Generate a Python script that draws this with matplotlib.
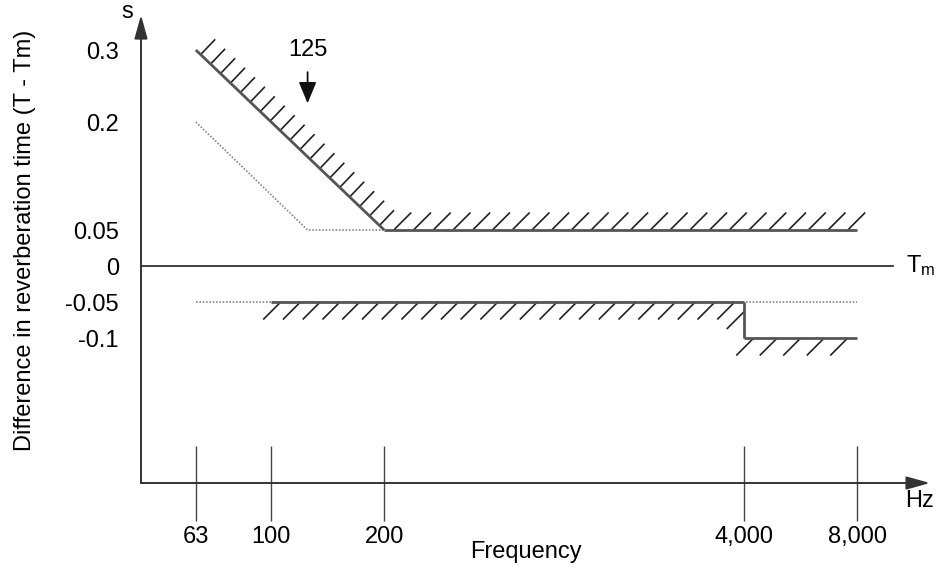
import numpy as np
import matplotlib
matplotlib.use('Agg')
import matplotlib.pyplot as plt
from matplotlib import patheffects

plt.rcParams['font.family'] = ['Liberation Sans', 'DejaVu Sans']
plt.rcParams['font.size'] = 17

# frequency ticks (Hz) and their labels
freq_ticks = [63, 100, 200, 4000, 8000]
freq_labels = ['63', '100', '200', '4,000', '8,000']
# value ticks (s)
val_ticks = [0.3, 0.2, 0.05, 0, -0.05, -0.1]
val_labels = ['0.3', '0.2', '0.05', '0', '-0.05', '-0.1']

# upper tolerance limit (hatched)
upper_f = [63, 200, 8000]
upper_v = [0.3, 0.05, 0.05]
# lower tolerance limit (hatched)
lower_f = [100, 4000, 4000, 8000]
lower_v = [-0.05, -0.05, -0.1, -0.1]
# dotted limits
dot_up_f = [63, 125, 200]
dot_up_v = [0.2, 0.05, 0.05]
dot_lo_f = [63, 8000]
dot_lo_v = [-0.05, -0.05]

# schematic axis: log scale, with the 200..4000 Hz stretch squeezed
LO, HI, SQ = np.log10(200), np.log10(4000), 0.737


def fwd(f):
    u = np.log10(np.clip(np.asarray(f, float), 1e-6, None))
    return u - (1 - SQ) * np.clip(u - LO, 0, HI - LO)


def inv(g):
    g = np.asarray(g, float)
    top = LO + SQ * (HI - LO)
    u = np.where(g <= LO, g, np.where(g <= top, LO + (g - LO) / SQ, g + (1 - SQ) * (HI - LO)))
    return 10 ** u


fig = plt.figure(figsize=(9.4, 5.71), dpi=100)
ax = fig.add_axes([0.15, 0.1541, 0.8394, 0.8196])
ax.set_xscale('function', functions=(fwd, inv))
ax.set_xlim(45, 12500)
ax.set_ylim(-0.3014, 0.3486)

for s in ax.spines.values():
    s.set_visible(False)

ax.set_xticks(freq_ticks, freq_labels)
ax.xaxis.set_minor_locator(matplotlib.ticker.NullLocator())
ax.tick_params(axis='x', direction='inout', length=54, width=1.0, color='#444', pad=4)
ax.set_yticks(val_ticks, val_labels)
ax.tick_params(axis='y', length=0, pad=16)

# axis arrows
arrow = dict(arrowstyle='-|>,head_length=0.9,head_width=0.25', mutation_scale=16,
             color='#333', lw=1.4, shrinkA=0, shrinkB=0)
ax.annotate('', xy=(1, 0), xytext=(0, 0), xycoords='axes fraction', textcoords='axes fraction',
            arrowprops=arrow, annotation_clip=False)
ax.annotate('', xy=(0, 1), xytext=(0, 0), xycoords='axes fraction', textcoords='axes fraction',
            arrowprops=arrow, annotation_clip=False)

# reference line Tm
ax.axhline(0, xmax=0.953, color='#333', lw=1.3)
ax.text(0.97, 0, r'$\mathregular{T_m}$', transform=ax.get_yaxis_transform(), ha='left', va='center')

# dotted limits
ax.plot(dot_up_f, dot_up_v, ls=(0, (1, 1)), color='#888', lw=1.2)
ax.plot(dot_lo_f, dot_lo_v, ls=(0, (1, 1)), color='#888', lw=1.2)

# hatched limits, one segment at a time so the hatch keeps a 45 deg slant
up_angles = [90, 45]
up_spacing = [9.5, 13.7]
up_len = [1.6, 1.3]
for i in range(len(upper_f) - 1):
    ax.plot(upper_f[i:i + 2], upper_v[i:i + 2], color='#555', lw=2, solid_capstyle='butt',
            path_effects=[patheffects.TickedStroke(spacing=up_spacing[i], angle=up_angles[i],
                                                   length=up_len[i], linewidth=1.2, foreground='#222'),
                          patheffects.Normal()])

lo_angles = [-135, -45, -135]
for i in range(len(lower_f) - 1):
    ax.plot(lower_f[i:i + 2], lower_v[i:i + 2], color='#555', lw=2, solid_capstyle='butt',
            path_effects=[patheffects.TickedStroke(spacing=13.7, angle=lo_angles[i],
                                                   length=1.3, linewidth=1.2, foreground='#222'),
                          patheffects.Normal()])

# 125 Hz marker
ax.annotate('125', xy=(125, 0.226), xytext=(125, 0.30), ha='center', va='center',
            arrowprops=dict(arrowstyle='-|>,head_length=0.65,head_width=0.27', mutation_scale=20,
                            color='#111', lw=1.3, shrinkA=6, shrinkB=0))

# labels
ax.text(-0.0177, 1.006, 's', transform=ax.transAxes, ha='center', va='center')
ax.text(0.969, -0.0385, 'Hz', transform=ax.transAxes, ha='left', va='center')
ax.text(0.488, -0.147, 'Frequency', transform=ax.transAxes, ha='center', va='center')
ax.text(-0.147, 0.519, 'Difference in reverberation time (T - Tm)', transform=ax.transAxes,
        ha='center', va='center', rotation=90)

fig.savefig('out.png', dpi=100)
